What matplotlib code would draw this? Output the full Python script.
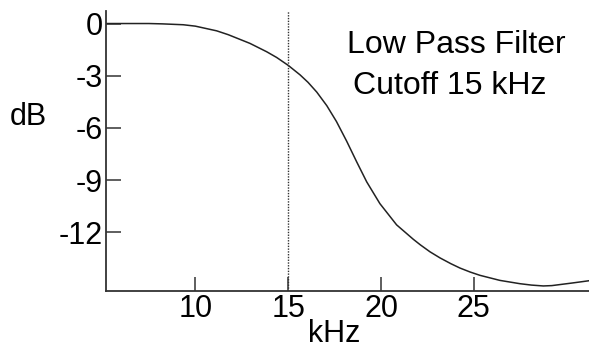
import numpy as np
import matplotlib
matplotlib.use("Agg")
import matplotlib.pyplot as plt

# frequency response
freq_khz = [5.19, 6.5, 7.5, 8.23, 9.35, 10.0, 11.15, 11.77, 12.94, 13.84, 14.38,
            15.01, 15.64, 16.07, 16.54, 17.08, 17.6, 18.15, 18.69, 19.23, 19.94,
            20.84, 21.74, 22.12, 22.64, 23.18, 23.76, 24.25, 24.8, 25.33, 26.4,
            27.48, 28.1, 28.74, 29.2, 29.64, 30.23, 30.72, 31.2]
gain_db = [0.0, 0.0, 0.0, -0.02, -0.07, -0.15, -0.42, -0.64, -1.14, -1.62, -1.95,
           -2.41, -2.95, -3.38, -3.94, -4.72, -5.63, -6.76, -7.95, -9.1, -10.35,
           -11.57, -12.4, -12.72, -13.12, -13.47, -13.8, -14.05, -14.28, -14.47, -14.76,
           -14.95, -15.03, -15.08, -15.06, -15.0, -14.92, -14.85, -14.78]
cutoff_khz = 15
x_ticks = [10, 15, 20, 25]
y_ticks = [0, -3, -6, -9, -12]

plt.rcParams['font.family'] = ['Liberation Sans', 'DejaVu Sans']

fig = plt.figure(figsize=(5.89, 3.51), dpi=100)
ax = fig.add_axes([106/589, 1-291/351, 1-106/589, 280/351])

ax.plot(freq_khz, gain_db, color='#222222', lw=1.1)
ax.axvline(cutoff_khz, color='#333333', lw=1.0, linestyle=(0, (1, 1)))

ax.set_xlim(5.19, 31.2)
ax.set_ylim(-15.37, 0.72)

ax.spines['top'].set_visible(False)
ax.spines['right'].set_visible(False)
for s in ['left', 'bottom']:
    ax.spines[s].set_linewidth(1.3)
    ax.spines[s].set_color('#333333')

ax.set_xticks(x_ticks)
ax.set_yticks(y_ticks)
ax.set_xticklabels([str(v) for v in x_ticks])
ax.set_yticklabels([str(v) for v in y_ticks])
ax.tick_params(axis='x', direction='in', length=10, width=1.1, color='#333333',
               labelsize=22, pad=2)
ax.tick_params(axis='y', direction='in', length=11, width=1.1, color='#333333',
               labelsize=22, pad=2)

ax.set_xlabel('kHz', fontsize=22)
ax.xaxis.set_label_coords(0.473, -0.155)
ax.xaxis.label.set_va('center')
ax.set_ylabel('dB', fontsize=22, rotation=0, ha='center', va='center')
ax.yaxis.set_label_coords(-0.161, 0.62)

ax.text(0.499, 0.849, 'Low Pass Filter', transform=ax.transAxes, fontsize=23,
        ha='left', va='baseline')
ax.text(0.511, 0.704, 'Cutoff 15 kHz', transform=ax.transAxes, fontsize=23,
        ha='left', va='baseline')

fig.savefig('out.png', dpi=100)
